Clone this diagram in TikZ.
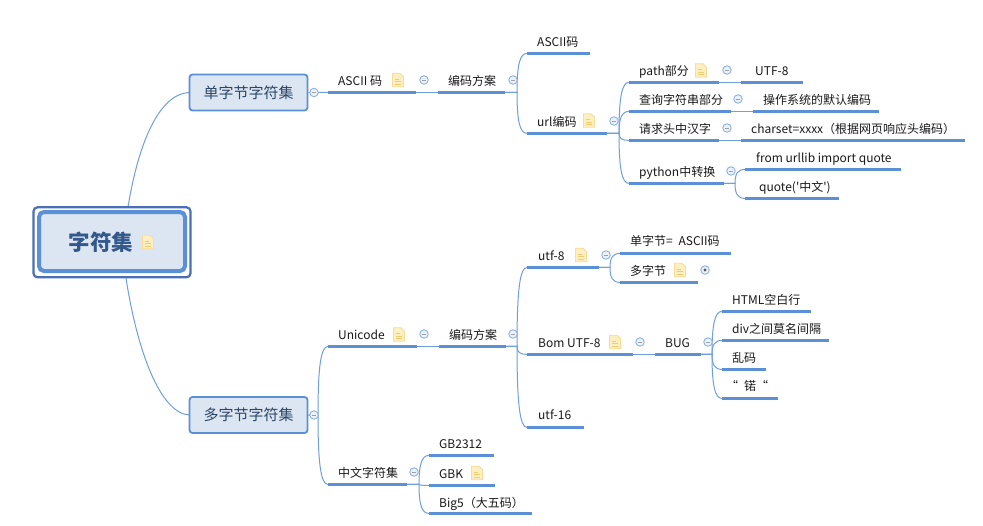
\documentclass[tikz,border=0pt]{standalone}
\usepackage{fontspec}
\setmainfont{Noto Sans CJK SC}
\newfontfamily\plainf{Noto Sans CJK SC}
\usetikzlibrary{calc}
\definecolor{lineblue}{HTML}{6F9FDC}
\definecolor{barblue}{HTML}{5B8FD6}
\definecolor{paleblue}{HTML}{DCE6F2}
\definecolor{rootblue}{HTML}{4A6FB8}
\definecolor{roottext}{HTML}{33598C}
\definecolor{branchtext}{HTML}{2B4566}
\definecolor{notefill}{HTML}{FDEFC0}
\definecolor{noteedge}{HTML}{FBDC96}
\definecolor{noteline}{HTML}{F2CC74}
\tikzset{
  x=1pt,y=-1pt,
  conn/.style={draw=lineblue,line width=1pt},
  bar/.style={draw=barblue,line width=2.8pt},
  label/.style={anchor=west,inner sep=0pt,text height=12pt,text depth=2.5pt,font=\fontsize{12}{12}\selectfont,text=black!90},
  branchbox/.style={draw=barblue,line width=1.8pt,fill=paleblue,rounded corners=3pt,
    minimum width=118pt,minimum height=36pt,inner sep=0pt,text=branchtext,font=\fontsize{15}{15}\selectfont},
  fold/.style={circle,draw=lineblue!80,line width=0.9pt,fill=paleblue!50,minimum size=8.5pt,inner sep=0pt},
}
% name, x1, x2, y of bar, text x, text y, text
\newcommand{\topic}[7]{%
  \coordinate (#1-l) at (#2,#4+0.4);
  \coordinate (#1-r) at (#3,#4+0.4);
  \node[label] (#1) at (#5,#6) {#7};
  \draw[bar] (#1-l) -- (#1-r);
}
\newcommand{\conn}[2]{%
  \draw[conn] let \p1=(#1-r),\p2=(#2-l) in (#1-r) -- (\x2-10pt,\y1)
    .. controls (\x2-10pt,{\y1+0.72*(\y2-\y1)}) and (\x2-7pt,\y2) .. (#2-l);
}
\newcommand{\foldmark}[3]{%
  \node[fold] (#1) at (#2,#3) {};
  \draw[gray!75,line width=0.9pt] ($(#1)+(-2.2,0)$) -- ($(#1)+(2.2,0)$);
}
\newcommand{\note}[3]{%
  \begin{scope}[shift={(#2,#3)}]
    \path[draw=noteedge,fill=notefill,line width=0.8pt] (-5.5,-6.8) -- (2,-6.8) -- (5.5,-3.2) -- (5.5,6.8) -- (-5.5,6.8) -- cycle;
    \coordinate (#1) at (0,0);
    \draw[noteline,line width=0.8pt] (-3,-1) -- (1,-1) (-3,1.5) -- (3,1.5) (-3,4) -- (3,4);
  \end{scope}
}
\begin{document}
\begin{tikzpicture}
\useasboundingbox[fill=white] (0,0) rectangle (983,525);
% root and branches
\coordinate (rt) at (128,207);
\coordinate (rb) at (126,278);
\coordinate (s1) at (189,92.5);
\coordinate (s2) at (189,415);
\draw[conn] (rt) .. controls (139,140) and (160,94) .. (s1);
\draw[conn] (rb) .. controls (137,350) and (160,413) .. (s2);
\node[draw=rootblue,line width=2.2pt,rounded corners=4pt,minimum width=157pt,minimum height=70pt,inner sep=0pt] (rootouter) at (112,242.3) {};
\node[draw=barblue,line width=4pt,fill=paleblue,rounded corners=5pt,minimum width=146pt,minimum height=59pt,inner sep=0pt] (root) at (112,241.5) {};
\node[anchor=west,inner sep=0pt,text=roottext,font=\bfseries\fontsize{21.5}{21.5}\selectfont] (roottitle) at (68.5,242.5) {字符集};
\note{n0}{148}{242}
\node[branchbox] (b1) at (248.5,92.5) {单字节字符集};
\node[branchbox] (b2) at (248.5,415) {多字节字符集};
% upper topics
\topic{ascii}{328}{416}{92}{338}{80.5}{ASCII 码}
\topic{scheme}{438}{505}{92}{448}{80.5}{编码方案}
\topic{asciicode}{527}{590}{53}{537}{42}{ASCII码}
\topic{url}{527}{607}{133}{537}{121.5}{url编码}
\topic{path}{629}{719}{82}{639}{71}{path部分}
\topic{utfa}{741}{803}{82}{755}{70.5}{UTF-8}
\topic{query}{629}{731}{111}{639}{99.5}{查询字符串部分}
\topic{osenc}{753}{879}{111}{763}{100}{操作系统的默认编码}
\topic{header}{629}{719}{140}{639}{128.5}{请求头中汉字}
\topic{charset}{741}{965}{140}{751}{129}{charset=xxxx（根据网页响应头编码）}
\topic{python}{629}{724}{183}{639}{172}{python中转换}
\topic{fromurl}{745}{901}{169}{756}{158}{from urllib import quote}
\topic{quote}{745}{839}{198}{759}{187}{{\plainf quote('中文')}}
% lower topics
\topic{uni}{328}{417}{346}{338}{334.5}{Unicode}
\topic{schemeb}{439}{506}{346}{449}{334.5}{编码方案}
\topic{utfe}{527}{599}{267}{538}{255.5}{utf-8}
\topic{single}{620}{731}{253}{630}{241}{单字节=\hspace{3pt} ASCII码}
\topic{multi}{620}{698}{282}{630}{270.5}{多字节}
\topic{bom}{527}{633}{354}{538}{342.5}{Bom UTF-8}
\topic{bug}{655}{701}{354}{665}{342.5}{BUG}
\topic{html}{722}{811}{311}{732}{299.5}{HTML空白行}
\topic{div}{722}{829}{340}{732}{328.5}{div之间莫名间隔}
\topic{garble}{722}{766}{369}{732}{357.5}{乱码}
\topic{cuo}{722}{778}{398}{732}{385.5}{\hspace{-6pt}“\hspace{6pt}锘“}
\topic{utfs}{527}{584}{427}{538}{415}{utf-16}
\topic{cn}{328}{407}{484}{338}{472.5}{中文字符集}
\topic{gb}{429}{494}{455}{439}{443.5}{GB2312}
\topic{gbk}{429}{495}{485}{439}{473.5}{GBK}
\topic{big}{429}{532}{513}{439}{502.5}{Big5（大五码）}
% connectors
\coordinate (b1-r) at (b1.east);
\coordinate (b2-r) at (b2.east);
\conn{b1}{ascii}
\conn{ascii}{scheme}
\conn{scheme}{asciicode}
\conn{scheme}{url}
\conn{url}{path}
\conn{url}{query}
\conn{url}{header}
\conn{url}{python}
\conn{path}{utfa}
\conn{query}{osenc}
\conn{header}{charset}
\conn{python}{fromurl}
\conn{python}{quote}
\conn{b2}{uni}
\conn{b2}{cn}
\conn{uni}{schemeb}
\conn{schemeb}{utfe}
\conn{schemeb}{bom}
\conn{schemeb}{utfs}
\conn{utfe}{single}
\conn{utfe}{multi}
\conn{bom}{bug}
\conn{bug}{html}
\conn{bug}{div}
\conn{bug}{garble}
\conn{bug}{cuo}
\conn{cn}{gb}
\conn{cn}{gbk}
\conn{cn}{big}
% notes
\note{n1}{398}{80}
\note{n2}{589}{120.5}
\note{n3}{701}{70.5}
\note{n4}{399}{334.5}
\note{n5}{581}{255}
\note{n6}{680}{270}
\note{n7}{615}{342}
\note{n8}{477}{473}
% fold markers
\foldmark{f1}{314}{92.5}
\foldmark{f2}{424}{80}
\foldmark{f3}{513}{80}
\foldmark{f4}{614}{121}
\foldmark{f5}{727}{70}
\foldmark{f6}{738}{99}
\foldmark{f7}{727}{128}
\foldmark{f8}{731}{171}
\foldmark{f9}{314}{415}
\foldmark{f10}{424}{334}
\foldmark{f11}{513}{334}
\foldmark{f12}{606}{255}
\foldmark{f13}{640}{342}
\foldmark{f14}{708}{342}
\foldmark{f15}{414}{472}
\node[fold] (f16) at (705,270) {};
\fill[gray!70!black] (f16) circle (1.6pt);
\end{tikzpicture}
\end{document}
